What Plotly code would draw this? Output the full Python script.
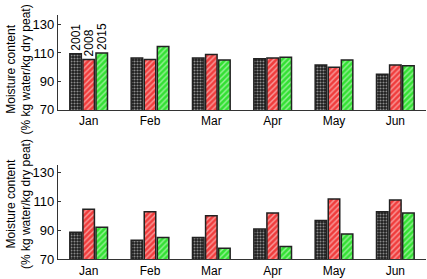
import plotly.graph_objects as go

months = ["Jan", "Feb", "Mar", "Apr", "May", "Jun"]
years = ["2001", "2008", "2015"]

top_2001 = [109.5, 106.5, 106.5, 106.0, 101.5, 95.0]
top_2008 = [105.5, 105.5, 109.0, 106.5, 100.0, 101.5]
top_2015 = [110.0, 114.5, 105.0, 107.0, 105.0, 101.0]

bot_2001 = [88.5, 83.0, 85.0, 90.8, 96.7, 102.8]
bot_2008 = [104.6, 102.8, 100.0, 101.9, 111.6, 111.0]
bot_2015 = [92.0, 85.0, 77.5, 78.7, 87.3, 101.9]

ytitle = "Moisture content<br>(% kg water/kg dry peat)"

styles = {
    "2001": dict(bg="#1a1a1a", fg="#ffffff", shape=".", size=3, solidity=0.4),
    "2008": dict(bg="#f03c3c", fg="#ffffff", shape="/", size=4, solidity=0.35),
    "2015": dict(bg="#33e033", fg="#ffffff", shape="/", size=4, solidity=0.35),
}

FONT = "Liberation Sans, Arial, sans-serif"
fig = go.Figure()

top = {"2001": top_2001, "2008": top_2008, "2015": top_2015}
bot = {"2001": bot_2001, "2008": bot_2008, "2015": bot_2015}

for panel, data, xa, ya in [("top", top, "x", "y"), ("bot", bot, "x2", "y2")]:
    for yr in years:
        s = styles[yr]
        kw = {}
        if panel == "top":
            kw = dict(
                text=[yr] + [""] * (len(months) - 1),
                textposition="outside",
                textangle=-90,
                constraintext="none",
                textfont=dict(size=12, color="black", family=FONT),
            )
        fig.add_trace(go.Bar(
            x=months, y=data[yr], xaxis=xa, yaxis=ya,
            cliponaxis=False,
            marker=dict(
                color=s["bg"],
                line=dict(color="#222222", width=1.5),
                pattern=dict(shape=s["shape"], fgcolor=s["fg"], bgcolor=s["bg"],
                             size=s["size"], solidity=s["solidity"]),
            ),
            showlegend=False,
            **kw,
        ))

xcommon = dict(
    showline=True, linecolor="#333333", linewidth=1.2, showgrid=False,
    zeroline=False, ticks="", automargin=False, tickfont=dict(size=12),
)
ycommon = dict(
    showline=True, linecolor="#333333", linewidth=1.2, showgrid=False,
    zeroline=False, ticks="inside", ticklen=3, tickcolor="#333333",
    automargin=False, tickvals=[70, 90, 110, 130], tickfont=dict(size=13),
)

fig.update_layout(
    width=427, height=279,
    margin=dict(l=58, r=1, t=15, b=20),
    paper_bgcolor="white", plot_bgcolor="white",
    barmode="group", bargap=0.36, bargroupgap=0.12,
    font=dict(family=FONT, color="black"),
    xaxis=dict(domain=[0, 1], anchor="y", **xcommon),
    xaxis2=dict(domain=[0, 1], anchor="y2", **xcommon),
    yaxis=dict(domain=[0.611, 1], anchor="x", range=[70, 136.7], **ycommon),
    yaxis2=dict(domain=[0, 0.385], anchor="x2", range=[70, 135.2], **ycommon),
)

for yc in [0.777, 0.225]:
    fig.add_annotation(
        text=ytitle, xref="paper", yref="paper", x=0, y=yc,
        xanchor="center", yanchor="middle", xshift=-39,
        textangle=-90, showarrow=False,
        font=dict(size=12, family=FONT, color="black"),
    )

fig.write_html(
    "out.html",
    config={"displayModeBar": False},
    post_script="document.body.style.margin='0';document.body.style.overflow='hidden';",
)
